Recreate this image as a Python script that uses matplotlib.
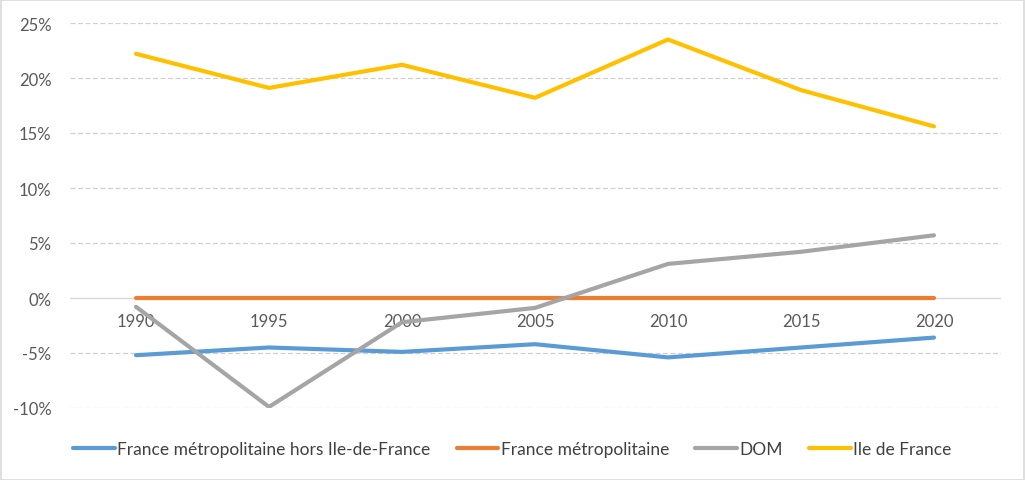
import matplotlib
matplotlib.use("Agg")
import matplotlib.pyplot as plt
from matplotlib.ticker import FuncFormatter
from matplotlib.patches import Rectangle

years = ["1990", "1995", "2000", "2005", "2010", "2015", "2020"]
hors_idf = [-5.2, -4.5, -4.9, -4.2, -5.4, -4.5, -3.6]
metro = [0.0, 0.0, 0.0, 0.0, 0.0, 0.0, 0.0]
dom = [-0.8, -9.9, -2.2, -0.9, 3.1, 4.2, 5.7]
idf = [22.2, 19.1, 21.2, 18.2, 23.5, 18.9, 15.6]

series_names = ["France métropolitaine hors Ile-de-France", "France métropolitaine", "DOM", "Ile de France"]
colors = ["#5B9BD5", "#ED7D31", "#A5A5A5", "#FFC000"]

plt.rcParams['font.family'] = ['Lato', 'DejaVu Sans']

W, H = 1025, 481
fig = plt.figure(figsize=(W/100, H/100), dpi=100)
ax = fig.add_axes([69.5/W, 1-409/H, (1000.5-69.5)/W, (409-24)/H])

x = list(range(len(years)))
for vals, name, c in zip([hors_idf, metro, dom, idf], series_names, colors):
    ax.plot(x, vals, color=c, lw=3.0, label=name, solid_capstyle='round', solid_joinstyle='round')

ax.set_xlim(-0.5, len(years)-0.5)
ax.set_ylim(-10, 25)
yt = [-10, -5, 5, 10, 15, 20, 25]
ax.set_yticks([-10, -5, 0, 5, 10, 15, 20, 25])
ax.yaxis.set_major_formatter(FuncFormatter(lambda v, p: f"{v:.0f}%"))
for v in yt:
    ax.axhline(v, color="#D0D0D0", lw=0.9, ls=(0, (4, 2)), zorder=0)
ax.axhline(0, color="#D9D9D9", lw=1.0, zorder=0.5)

for s in ax.spines.values():
    s.set_visible(False)
ax.set_xticks(x)
ax.set_xticklabels(years)
ax.spines['bottom'].set_position(('data', 0))
ax.tick_params(axis='x', length=0, pad=11, labelsize=12, labelcolor="#595959")
ax.tick_params(axis='y', length=0, pad=13, labelsize=12, labelcolor="#595959")

leg = fig.legend(loc='center', bbox_to_anchor=(0.5, 1-450/H), ncol=4, frameon=False,
                 fontsize=12.5, handlelength=2.4, columnspacing=1.5, handletextpad=0.15)
for t in leg.get_texts():
    t.set_color("#404040")

fig.patches.append(Rectangle((0.5/W, 0.5/H), 1-1.5/W, 1-1.5/H, transform=fig.transFigure,
                             fill=False, edgecolor="#D9D9D9", lw=1.2))

fig.savefig("out.png", dpi=100)
